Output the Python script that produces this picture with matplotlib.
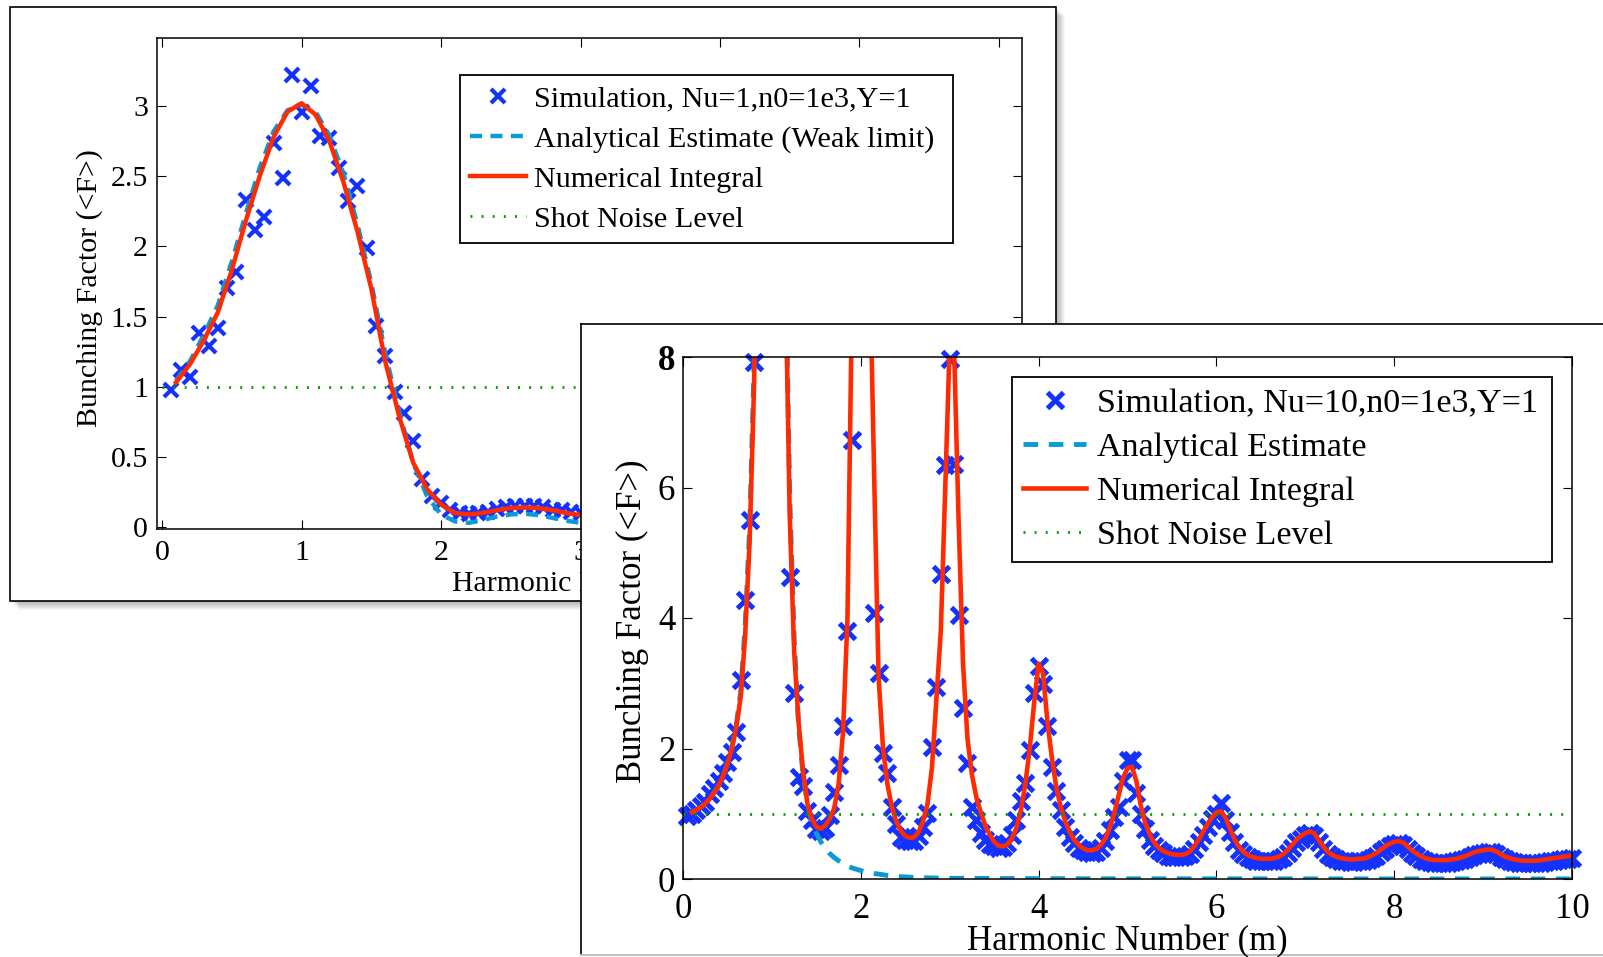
import matplotlib
matplotlib.use("Agg")
import matplotlib.pyplot as plt
from matplotlib.patches import Rectangle
from matplotlib.lines import Line2D
import numpy as np

plt.rcParams["font.family"] = ["Liberation Serif", "DejaVu Serif"]

W, H = 1603, 957

BLUE = "#1432ff"
CYAN = "#0a9ad4"
RED = "#ff2a00"
GREEN = "#009a00"

# ---------------- left panel (Nu=1) ----------------
sim1_label = "Simulation, Nu=1,n0=1e3,Y=1"
ana1_label = "Analytical Estimate (Weak limit)"
sim1_x = np.arange(1, 93) / 15.0
sim1_y = [0.98, 1.12, 1.07, 1.38, 1.29, 1.42, 1.70, 1.82, 2.33, 2.12,
          2.21, 2.74, 2.49, 3.22, 2.96, 3.14, 2.79, 2.77, 2.56, 2.32,
          2.43, 1.99, 1.43, 1.22, 0.96, 0.81, 0.61, 0.34, 0.22, 0.17,
          0.12, 0.10, 0.09, 0.10, 0.11, 0.13, 0.14, 0.15, 0.15, 0.15,
          0.14, 0.12, 0.12, 0.11, 0.10, 0.09, 0.08, 0.07, 0.07, 0.06,
          0.06, 0.06, 0.06, 0.07, 0.07, 0.07, 0.07, 0.06, 0.06, 0.05,
          0.05, 0.05, 0.05, 0.05, 0.05, 0.05, 0.05, 0.05, 0.04, 0.04,
          0.04, 0.04, 0.04, 0.04, 0.04, 0.04, 0.04, 0.04, 0.04, 0.03,
          0.03, 0.03, 0.03, 0.04, 0.04, 0.04, 0.03, 0.03, 0.03, 0.03,
          0.03, 0.03]
num1_x = np.arange(1, 62) / 10.0
num1_y = [1.03, 1.16, 1.33, 1.53, 1.83, 2.18, 2.50, 2.78, 2.96, 3.02,
          2.94, 2.75, 2.46, 2.11, 1.70, 1.18, 0.79, 0.46, 0.27, 0.16,
          0.10, 0.09, 0.10, 0.12, 0.135, 0.14, 0.135, 0.12, 0.10, 0.085,
          0.07, 0.06, 0.055, 0.055, 0.06, 0.065, 0.07, 0.07, 0.065, 0.06,
          0.05, 0.045, 0.04, 0.04, 0.045, 0.05, 0.05, 0.05, 0.045, 0.04,
          0.035, 0.035, 0.035, 0.04, 0.04, 0.04, 0.035, 0.03, 0.03, 0.03,
          0.03]
ana1_y = [1.04, 1.18, 1.37, 1.58, 1.89, 2.23, 2.56, 2.82, 2.97, 3.01,
          2.96, 2.79, 2.52, 2.16, 1.74, 1.24, 0.82, 0.46, 0.22, 0.09,
          0.04, 0.03, 0.05, 0.075, 0.09, 0.095, 0.085, 0.065, 0.045, 0.03,
          0.02, 0.02, 0.025, 0.03, 0.035, 0.035, 0.03, 0.025, 0.02, 0.015,
          0.015, 0.02, 0.02, 0.025, 0.025, 0.02, 0.015, 0.01, 0.01, 0.015,
          0.015, 0.015, 0.01, 0.01, 0.01, 0.01, 0.01, 0.01, 0.01, 0.01,
          0.01]
x1_ticks = [0, 1, 2, 3, 4, 5, 6]
x1_labels = ["0", "1", "2", "3", "4", "5", "6"]
y1_ticks = [0, 0.5, 1, 1.5, 2, 2.5, 3]
y1_labels = ["0", "0.5", "1", "1.5", "2", "2.5", "3"]

# ---------------- right panel (Nu=10) ----------------
sim2_label = "Simulation, Nu=10,n0=1e3,Y=1"
ana2_label = "Analytical Estimate"
sim2_x = np.arange(1, 201) * 0.05
sim2_y = np.array([
    0.96, 1.00, 1.06, 1.12, 1.18, 1.30, 1.40, 1.50, 1.62, 1.80,
    1.95, 2.25, 3.05, 4.28, 5.50, 7.93, 14.0, 24.0, 33.0,
    35.0, 24.0, 14.0, 8.8, 4.63, 2.85, 1.57, 1.42, 1.04, 0.90,
    0.76, 0.73, 0.78, 0.98, 1.34, 1.75, 2.34, 3.80, 6.73, 15.0,
    21.0, 15.0, 9.0, 4.07, 3.15, 1.93, 1.62, 1.11, 0.85, 0.65,
    0.60, 0.58, 0.58, 0.66, 0.80, 1.01, 2.03, 2.95, 4.68, 6.34,
    7.97, 6.36, 4.05, 2.62, 1.78, 1.11, 0.90, 0.70, 0.60, 0.54,
    0.50, 0.48, 0.49, 0.55, 0.68, 0.91, 1.20, 1.47, 1.98, 2.85,
    3.26, 2.99, 2.34, 1.72, 1.35, 1.05, 0.80, 0.65, 0.55, 0.48,
    0.44, 0.41, 0.40, 0.42, 0.48, 0.58, 0.75, 0.95, 1.11, 1.50,
    1.83, 1.83, 1.32, 1.00, 0.76, 0.60, 0.50, 0.44, 0.40, 0.36,
    0.34, 0.33, 0.33, 0.35, 0.38, 0.46, 0.56, 0.68, 0.80, 0.92,
    1.00, 1.16, 0.90, 0.72, 0.56, 0.45, 0.38, 0.33, 0.30, 0.28,
    0.27, 0.27, 0.27, 0.28, 0.30, 0.34, 0.40, 0.48, 0.56, 0.62,
    0.67, 0.70, 0.66, 0.56, 0.46, 0.38, 0.33, 0.30, 0.28, 0.27,
    0.26, 0.26, 0.27, 0.27, 0.29, 0.32, 0.36, 0.41, 0.46, 0.50,
    0.53, 0.55, 0.52, 0.46, 0.40, 0.35, 0.31, 0.28, 0.26, 0.25,
    0.25, 0.25, 0.25, 0.26, 0.27, 0.29, 0.31, 0.34, 0.37, 0.39,
    0.40, 0.41, 0.41, 0.38, 0.34, 0.30, 0.28, 0.26, 0.25, 0.24,
    0.24, 0.24, 0.24, 0.25, 0.26, 0.27, 0.28, 0.29, 0.30, 0.31,
    0.32])
num2_x = np.arange(2, 201) * 0.05
num2_y = [
    1.02, 1.06, 1.10, 1.16, 1.23, 1.32, 1.43, 1.58, 1.76, 2.00,
    2.33, 2.80, 3.75, 5.20, 7.60, 13.0, 22.0, 32.0,
    36.0, 26.0, 15.0, 9.5, 5.6, 3.5, 2.4, 1.65, 1.15, 0.92,
    0.80, 0.77, 0.82, 0.92, 1.08, 1.45, 2.25, 4.0, 8.8, 16.0,
    22.0, 16.0, 9.5, 6.2, 3.1, 2.0, 1.45, 1.10, 0.88, 0.74,
    0.66, 0.63, 0.64, 0.72, 0.88, 1.15, 1.70, 2.75, 3.8, 6.0,
    8.2, 8.1, 5.5, 3.3, 2.15, 1.60, 1.25, 1.02, 0.82, 0.68,
    0.57, 0.51, 0.50, 0.53, 0.62, 0.78, 1.05, 1.45, 2.00, 2.70,
    3.30, 3.15, 2.40, 1.85, 1.40, 1.10, 0.88, 0.72, 0.60, 0.52,
    0.47, 0.44, 0.44, 0.46, 0.52, 0.62, 0.78, 1.00, 1.28, 1.55,
    1.70, 1.72, 1.50, 1.12, 0.86, 0.68, 0.56, 0.48, 0.43, 0.40,
    0.38, 0.37, 0.37, 0.38, 0.42, 0.50, 0.60, 0.72, 0.84, 0.94,
    1.02, 1.04, 0.95, 0.78, 0.62, 0.50, 0.42, 0.37, 0.34, 0.32,
    0.31, 0.31, 0.31, 0.32, 0.34, 0.38, 0.44, 0.52, 0.60, 0.66,
    0.70, 0.73, 0.70, 0.60, 0.50, 0.42, 0.37, 0.34, 0.32, 0.31,
    0.30, 0.30, 0.31, 0.31, 0.33, 0.36, 0.40, 0.45, 0.50, 0.54,
    0.57, 0.58, 0.56, 0.50, 0.44, 0.39, 0.35, 0.32, 0.30, 0.29,
    0.29, 0.29, 0.29, 0.30, 0.31, 0.33, 0.35, 0.38, 0.41, 0.43,
    0.44, 0.45, 0.45, 0.42, 0.38, 0.34, 0.32, 0.30, 0.29, 0.28,
    0.28, 0.28, 0.28, 0.29, 0.30, 0.31, 0.32, 0.33, 0.34, 0.35,
    0.36]
ana2_x = np.concatenate([np.arange(2, 61) * 0.05, np.arange(7, 21) * 0.5])
ana2_y = [
    1.02, 1.06, 1.10, 1.16, 1.23, 1.32, 1.43, 1.58, 1.77, 2.02,
    2.37, 2.88, 3.90, 5.40, 7.90, 13.5, 22.0, 32.0,
    36.0, 26.0, 15.5, 9.8, 5.9, 3.7, 2.35, 1.60, 1.15, 0.88,
    0.70, 0.57, 0.47, 0.39, 0.33, 0.28, 0.24, 0.20, 0.17, 0.15,
    0.13, 0.11, 0.10, 0.085, 0.075, 0.065, 0.055, 0.048, 0.042, 0.036,
    0.032, 0.028, 0.025, 0.022, 0.020, 0.018, 0.016, 0.014, 0.013, 0.012,
    0.011,
    0.008, 0.005, 0.004, 0.003, 0.003, 0.002, 0.002, 0.002, 0.001, 0.001,
    0.001, 0.001, 0.001, 0.001]
x2_ticks = [0, 2, 4, 6, 8, 10]
x2_labels = ["0", "2", "4", "6", "8", "10"]
y2_ticks = [0, 2, 4, 6, 8]
y2_labels = ["0", "2", "4", "6", "8"]

num_label = "Numerical Integral"
shot_label = "Shot Noise Level"
xlab = "Harmonic Number (m)"
ylab = "Bunching Factor (<F>)"

fig = plt.figure(figsize=(W / 100, H / 100), dpi=100)


def fx(px):
    return px / W


def fy(py):
    return 1 - py / H


def shadow(x0, y0, x1, y1, z):
    for i in range(1, 10):
        fig.patches.append(Rectangle((fx(x0 + i), fy(y1 + i)), (x1 - x0) / W, (y1 - y0) / H,
                                     transform=fig.transFigure, facecolor="black",
                                     edgecolor="none", alpha=0.035, zorder=z))


def style_axes(ax, fs_tick, xpad, ypad):
    ax.tick_params(direction="in", top=True, right=True, length=6.5, width=0.8,
                   labelsize=fs_tick, colors="black")
    ax.tick_params(axis="x", pad=xpad)
    ax.tick_params(axis="y", pad=ypad)
    for s in ax.spines.values():
        s.set_linewidth(1.1)


# left panel frame
shadow(10, 7, 1056, 601, 0.5)
fig.patches.append(Rectangle((fx(10), fy(601)), (1056 - 10) / W, (601 - 7) / H,
                             transform=fig.transFigure, facecolor="white",
                             edgecolor="black", linewidth=1.2, zorder=1))

ax1 = fig.add_axes([fx(157), fy(529), (1022 - 157) / W, (529 - 38) / H], zorder=2)
ax1.plot(sim1_x, sim1_y, "x", color=BLUE, ms=9.5, mew=3.0, label=sim1_label, clip_on=False)
ax1.plot(num1_x, ana1_y, color=CYAN, lw=3.2, ls=(0, (2.7, 1.9)), label=ana1_label)
ax1.plot(num1_x, num1_y, color=RED, lw=3.2, label=num_label)
ax1.plot([0, 6.2], [1, 1], color=GREEN, lw=2.0, ls=(0, (0.7, 3.3)), label=shot_label)
ax1.set_xlim(-0.036, 6.165)
ax1.set_ylim(-0.014, 3.485)
ax1.set_xticks(x1_ticks)
ax1.set_xticklabels(x1_labels)
ax1.set_yticks(y1_ticks)
ax1.set_yticklabels(y1_labels)
style_axes(ax1, 21.5, 8, 6.5)
ax1.set_xlabel(xlab, fontsize=21.5, va="center")
ax1.xaxis.set_label_coords(0.5, -0.112)
ax1.set_ylabel(ylab, fontsize=21.5, va="center")
ax1.yaxis.set_label_coords(-0.0775, 0.49)
leg1 = ax1.legend(loc="upper left", bbox_to_anchor=(0.350, 0.5947, 0.570, 0.3299),
                  mode="expand", fontsize=21.8, handlelength=1.85, handletextpad=0.25,
                  labelspacing=0.42, borderpad=0.35, borderaxespad=0, fancybox=False,
                  edgecolor="black", framealpha=1, numpoints=1)
leg1.get_frame().set_linewidth(1.3)

# right panel frame (drawn over the left one)
fig.patches.append(Rectangle((fx(581), fy(962)), (1610 - 581) / W, (962 - 324) / H,
                             transform=fig.transFigure, facecolor="white",
                             edgecolor="none", zorder=3))
fig.lines.append(Line2D([fx(581), fx(1603)], [fy(324), fy(324)], transform=fig.transFigure,
                        color="black", lw=1.2, zorder=3.1))
fig.lines.append(Line2D([fx(581), fx(581)], [fy(324), fy(954)], transform=fig.transFigure,
                        color="black", lw=1.2, zorder=3.1))
fig.lines.append(Line2D([fx(581), fx(1603)], [fy(955), fy(955)], transform=fig.transFigure,
                        color="#c0c0c0", lw=1.5, zorder=3.1))

ax2 = fig.add_axes([fx(683), fy(879), (1572 - 683) / W, (879 - 357) / H], zorder=5)
keep = sim2_y <= 8
ax2.plot(sim2_x[keep], sim2_y[keep], "x", color=BLUE, ms=11, mew=3.6, label=sim2_label,
         clip_on=False)
ax2.plot(ana2_x, ana2_y, color=CYAN, lw=3.5, ls=(0, (3.0, 2.2)), label=ana2_label)
ax2.plot(num2_x, num2_y, color=RED, lw=3.3, label=num_label)
ax2.plot([0, 10], [1, 1], color=GREEN, lw=2.0, ls=(0, (0.7, 3.3)), label=shot_label)
ax2.set_xlim(0, 10)
ax2.set_ylim(0, 8)
ax2.set_xticks(x2_ticks)
ax2.set_xticklabels(x2_labels)
ax2.set_yticks(y2_ticks)
ax2.set_yticklabels(y2_labels)
style_axes(ax2, 25, 10, 5.5)
ax2.get_yticklabels()[-1].set_fontweight("bold")
ax2.set_xlabel(xlab, fontsize=25, va="center")
ax2.xaxis.set_label_coords(0.5, -0.121)
ax2.set_ylabel(ylab, fontsize=25, va="center")
ax2.yaxis.set_label_coords(-0.057, 0.494)
leg2 = ax2.legend(loc="upper left", bbox_to_anchor=(0.370, 0.611, 0.6075, 0.3507),
                  mode="expand", fontsize=24.5, handlelength=1.85, handletextpad=0.3,
                  labelspacing=0.38, borderpad=0.34, borderaxespad=0, fancybox=False,
                  edgecolor="black", framealpha=1, numpoints=1)
leg2.get_frame().set_linewidth(1.3)

fig.savefig("out.png", dpi=100)
